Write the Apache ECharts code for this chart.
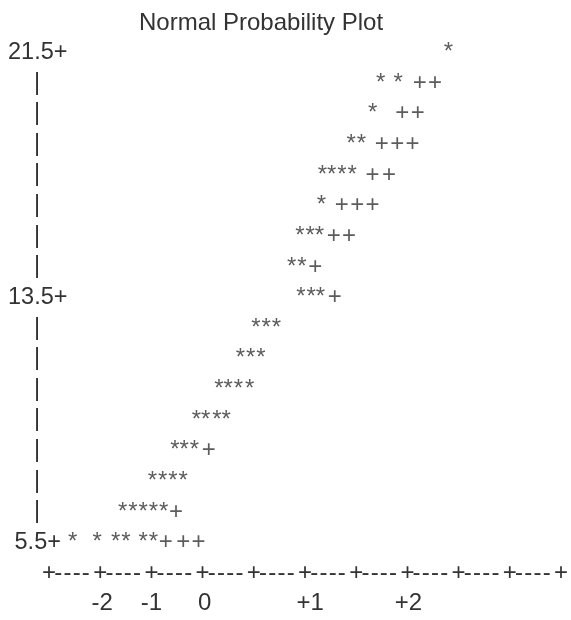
<!DOCTYPE html>
<html>
<head>
<meta charset="utf-8">
<script src="https://cdn.jsdelivr.net/npm/echarts@6/dist/echarts.min.js"></script>
<style>
  html, body { margin: 0; padding: 0; background: #ffffff; }
  #chart { width: 571px; height: 620px; }
</style>
</head>
<body>
<div id="chart"></div>
<script>
// ---- Data (line-printer style normal probability plot) ----
// Row values on the vertical axis (one text row per unit)
const rowValues = [21.5, 20.5, 19.5, 18.5, 17.5, 16.5, 15.5, 14.5, 13.5, 12.5, 11.5, 10.5, 9.5, 8.5, 7.5, 6.5, 5.5];
// Horizontal positions (print columns) of the '*' observations on each row
const starCols = [
  [39.0],
  [32.4, 34.1],
  [31.6],
  [29.5, 30.5],
  [26.7, 27.6, 28.6, 29.6],
  [26.6],
  [24.5, 25.5, 26.4],
  [23.7, 24.7],
  [24.6, 25.6, 26.5],
  [20.2, 21.2, 22.2],
  [18.7, 19.7, 20.7],
  [16.6, 17.5, 18.5, 19.6],
  [14.4, 15.3, 16.4, 17.3],
  [12.3, 13.2, 14.2],
  [10.1, 11.1, 12.1, 13.1],
  [7.2, 8.2, 9.2, 10.2, 11.2],
  [2.3, 4.7, 6.5, 7.5, 9.2, 10.2]
];
// Horizontal positions of the '+' reference-line marks on each row
const refCols = [
  [],
  [36.2, 37.7],
  [34.5, 36.0],
  [32.5, 34.0, 35.5],
  [31.6, 33.2],
  [28.6, 30.1, 31.6],
  [27.8, 29.3],
  [26.0],
  [27.9],
  [],
  [],
  [],
  [],
  [15.6],
  [],
  [12.4],
  [11.4, 13.1, 14.6]
];
// Vertical axis labelled rows
const yLabelValues = [21.5, 13.5, 5.5];
// Horizontal axis: '+' marks of the printed rule, and the tick labels
const rulePlusCols = [0, 5, 10, 15, 20, 25, 30, 35, 40, 45, 50];
const ruleDashOffsets = [0.9, 1.8, 2.7, 3.6];
const xTickCols = [5.2, 10.0, 15.2, 25.5, 35.1];
const xTickLabels = ['-2', '-1', '0', '+1', '+2'];

// ---- Build series data ----
const starData = [];
const refData = [];
rowValues.forEach(function (v, i) {
  starCols[i].forEach(function (c) { starData.push([c, v]); });
  refCols[i].forEach(function (c) { refData.push([c, v]); });
});
const dashCols = [];
rulePlusCols.forEach(function (c, i) {
  if (i < rulePlusCols.length - 1) {
    ruleDashOffsets.forEach(function (o) { dashCols.push(+(c + o).toFixed(2)); });
  }
});

const FONT = '"Liberation Sans", Arial, Helvetica, sans-serif';
const INK = '#333333';

function glyphSeries(name, data, ch) {
  return {
    name: name,
    type: 'scatter',
    xAxisIndex: 0,
    yAxisIndex: 0,
    data: data,
    symbolSize: 1,
    itemStyle: { color: 'rgba(0,0,0,0)' },
    silent: true,
    label: {
      show: true,
      position: 'inside',
      formatter: function () { return ch; },
      fontFamily: FONT,
      fontSize: 24,
      color: INK,
      align: 'center',
      verticalAlign: 'middle'
    },
    emphasis: { disabled: true }
  };
}

function ruleAxis(values, margin, fmt) {
  return {
    type: 'value', min: 0, max: 50, position: 'bottom',
    axisLine: { show: false }, axisTick: { show: false }, splitLine: { show: false },
    axisLabel: {
      customValues: values,
      showMinLabel: true,
      showMaxLabel: true,
      hideOverlap: false,
      margin: margin,
      verticalAlign: 'middle',
      align: 'center',
      fontFamily: FONT, fontSize: 24, color: INK,
      formatter: fmt
    }
  };
}

const chart = echarts.init(document.getElementById('chart'), null, { renderer: 'canvas' });
chart.setOption({
  backgroundColor: '#ffffff',
  animation: false,
  title: {
    text: 'Normal Probability Plot',
    left: 134,
    top: 6,
    textStyle: { fontFamily: FONT, fontSize: 24, fontWeight: 'normal', color: INK }
  },
  grid: { left: 49, right: 8, top: 52.5, bottom: 77.5, containLabel: false },
  xAxis: [
    ruleAxis(rulePlusCols, 30.6, function () { return '+'; }),
    ruleAxis(dashCols, 30.6, function () { return '-'; }),
    ruleAxis(xTickCols, 61.25, function (v) { return xTickLabels[xTickCols.indexOf(v)]; })
  ],
  yAxis: {
    type: 'value', min: 5.5, max: 21.5,
    axisLine: { show: false }, axisTick: { show: false }, splitLine: { show: false },
    axisLabel: {
      customValues: rowValues,
      showMinLabel: true,
      showMaxLabel: true,
      margin: 41,
      align: 'left',
      verticalAlign: 'middle',
      fontFamily: FONT, fontSize: 23.5, color: INK,
      formatter: function (v) {
        if (yLabelValues.indexOf(v) >= 0) {
          const s = v.toFixed(1) + '+';
          return s.length < 5 ? ' ' + s : s;
        }
        return '    |';
      }
    }
  },
  series: [
    glyphSeries('Observations', starData, '*'),
    glyphSeries('Reference line', refData, '+')
  ]
});
</script>
</body>
</html>
